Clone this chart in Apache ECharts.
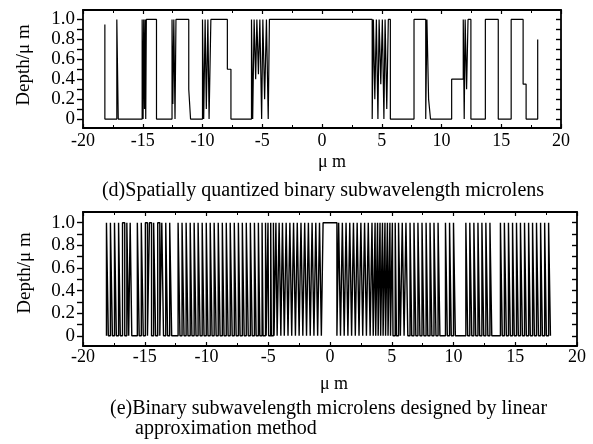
<!DOCTYPE html>
<html>
<head>
<meta charset="utf-8">
<script src="https://cdn.jsdelivr.net/npm/echarts@6/dist/echarts.min.js"></script>
<style>
html,body{margin:0;padding:0;background:#fff;}
#chart{width:593px;height:444px;}
</style>
</head>
<body>
<div id="chart"></div>
<script>
// ---- tick values / labels ----
const xTickValues = [-20, -15, -10, -5, 0, 5, 10, 15, 20];
const xTickLabels = ['-20', '-15', '-10', '-5', '0', '5', '10', '15', '20'];
const yLabelValues = [0, 0.2, 0.4, 0.6, 0.8, 1.0];
const yTickLabels = ['0', '0.2', '0.4', '0.6', '0.8', '1.0'];
const yTickValues = [0, 0.1, 0.2, 0.3, 0.4, 0.5, 0.6, 0.7, 0.8, 0.9, 1.0];

// ---- (d) spatially quantized profile: start point, then edge positions and level after each edge ----
const dStart = [-18.17, 0.95];
const dEdges = [-18.17, -17.17, -17.05, -15.05, -14.97, -14.92, -14.85, -14.80, -14.75, -14.70,
  -13.85, -12.55, -12.48, -12.40, -12.30, -12.22, -11.15, -11.00,
  -10.00, -9.90, -9.78, -9.68, -9.55, -9.45, -9.30,
  -7.92, -7.62,
  -5.90, -5.80, -5.68, -5.55, -5.45, -5.32, -5.20, -5.05, -4.95, -4.80, -4.65, -4.50, -4.40,
  4.20, 4.30, 4.42, 4.55, 4.68, 4.78, 4.92, 5.05, 5.18, 5.28, 5.42, 5.55, 5.72,
  7.70, 8.68, 8.78, 8.92, 9.08,
  10.85, 11.82, 11.90, 11.98, 12.10, 12.22, 12.46,
  13.67, 14.75, 15.83, 16.83, 17.08, 18.05];
const dLevels = [0, 1, 0, 1, 0, 1, 0.1, 1, 0, 1,
  0, 1, 0.15, 1, 0, 1, 0.3, 0,
  1, 0, 1, 0.1, 1, 0, 1,
  0.5, 0,
  1, 0, 1, 0.4, 1, 0.45, 1, 0, 1, 0.2, 1, 0, 1,
  0, 1, 0.2, 1, 0, 1, 0.35, 1, 0, 1, 0.1, 1, 0,
  1, 0, 1, 0.2, 0,
  0.4, 1, 0, 1, 0.3, 1, 0,
  1, 0, 1, 0.35, 0, 0.8];

// ---- (e) linear approximation profile: positions where depth toggles 0 -> 1 -> 0 ... ----
const eEdges = [
  -18.10, -17.95, -17.78, -17.62, -17.45, -17.30, -17.12, -16.98, -16.80, -16.62,
  -16.45, -16.30, -16.18, -16.05,
  -15.60, -15.45, -15.28, -15.12, -14.95, -14.78, -14.62, -14.45, -14.28, -14.12,
  -13.95, -13.78, -13.62, -13.48, -13.30, -13.15, -12.98, -12.82,
  -12.30, -12.15, -11.98, -11.82, -11.65, -11.50, -11.32, -11.18, -11.00, -10.85,
  -10.68, -10.52, -10.35, -10.20, -10.02, -9.88, -9.70, -9.55, -9.38, -9.22,
  -9.05, -8.90, -8.72, -8.58, -8.40, -8.25, -8.08, -7.92, -7.75, -7.60,
  -7.42, -7.28, -7.10, -6.95, -6.78, -6.62, -6.45, -6.30, -6.12, -5.98,
  -5.80, -5.68, -5.50, -5.42, -5.22, -5.17, -5.02, -4.97, -4.80, -4.75,
  -4.58, -4.53, -4.38, -4.28, -4.12, -3.98, -3.85, -3.70, -3.55, -3.40,
  -3.25, -3.10, -2.95, -2.80, -2.65, -2.50, -2.35, -2.20, -2.05, -1.90,
  -1.75, -1.60, -1.45, -1.30, -1.15, -1.00, -0.85, -0.70,
  -0.56, 0.56,
  0.70, 0.85, 1.00, 1.15, 1.30, 1.45, 1.60, 1.75, 1.90, 2.05,
  2.20, 2.35, 2.50, 2.65, 2.80, 2.95, 3.10, 3.25, 3.40, 3.50,
  3.65, 3.70, 3.85, 3.90, 4.05, 4.10, 4.25, 4.30, 4.45, 4.50,
  4.65, 4.70, 4.85, 4.90, 5.05, 5.10, 5.28, 5.38, 5.55, 5.70,
  5.85, 6.00, 6.15, 6.30, 6.48, 6.62, 6.80, 6.95, 7.12, 7.28,
  7.45, 7.60, 7.78, 7.92, 8.10, 8.25, 8.42, 8.58, 8.75, 8.90,
  9.35, 9.50, 9.68, 9.82, 10.00, 10.15,
  11.00, 11.15, 11.32, 11.48, 11.65, 11.80, 11.98, 12.12, 12.30, 12.45,
  12.62, 12.78, 12.95, 13.10,
  13.80, 13.95, 14.12, 14.28, 14.45, 14.60, 14.78, 14.92, 15.10, 15.25,
  15.42, 15.58, 15.75, 15.90, 16.08, 16.22, 16.40, 16.55, 16.72, 16.88,
  17.05, 17.20, 17.38, 17.52, 17.70, 17.85];

// ---- build step polylines from the arrays ----
function buildD() {
  const pts = [dStart.slice()];
  let prev = dStart[1];
  for (let i = 0; i < dEdges.length; i++) {
    pts.push([dEdges[i], prev]);
    pts.push([dEdges[i], dLevels[i]]);
    prev = dLevels[i];
  }
  return pts;
}
function buildE() {
  const pts = [];
  let lvl = 0;
  for (let i = 0; i < eEdges.length; i++) {
    const nl = lvl === 0 ? 1 : 0;
    pts.push([eEdges[i], lvl]);
    pts.push([eEdges[i], nl]);
    lvl = nl;
  }
  return pts;
}

const FONT = '"Liberation Serif", "DejaVu Serif", serif';
const grids = [
  { left: 83, width: 478, top: 10, height: 118 },
  { left: 83, width: 494, top: 212, height: 134 }
];

function xAxes(gi) {
  const base = { type: 'value', gridIndex: gi, min: -20, max: 20, interval: 5,
    splitLine: { show: false },
    axisLine: { show: true, onZero: false, lineStyle: { color: '#000', width: 1.8 } } };
  return [
    Object.assign({}, base, {
      position: 'bottom',
      axisTick: { show: true, inside: true, length: 4, lineStyle: { color: '#000', width: 1.2 } },
      minorTick: { show: true, splitNumber: 2, length: 3, lineStyle: { color: '#000', width: 1 } },
      axisLabel: { show: true, color: '#000', fontFamily: FONT, fontSize: 18, margin: gi === 0 ? 4 : 2,
        formatter: v => { const k = xTickValues.indexOf(v); return k >= 0 ? xTickLabels[k] : ''; } }
    }),
    Object.assign({}, base, {
      position: 'top',
      axisTick: { show: true, inside: true, length: 4, lineStyle: { color: '#000', width: 1.2 } },
      minorTick: { show: true, splitNumber: 2, length: 3, lineStyle: { color: '#000', width: 1 } },
      axisLabel: { show: false }
    })
  ];
}
function yAxes(gi) {
  const base = { type: 'value', gridIndex: gi, min: -0.09, max: 1.095,
    splitLine: { show: false },
    axisLine: { show: true, onZero: false, lineStyle: { color: '#000', width: 1.8 } } };
  return [
    Object.assign({}, base, {
      position: 'left',
      axisTick: { show: true, inside: false, length: 6, customValues: yTickValues, lineStyle: { color: '#000', width: 1.4 } },
      axisLabel: { show: true, color: '#000', fontFamily: FONT, fontSize: 19, margin: 8,
        customValues: yLabelValues,
        formatter: v => { const k = yLabelValues.findIndex(t => Math.abs(t - v) < 1e-6); return k >= 0 ? yTickLabels[k] : ''; } }
    }),
    Object.assign({}, base, {
      position: 'right',
      axisTick: { show: true, inside: true, length: 5, customValues: yTickValues, lineStyle: { color: '#000', width: 1.4 } },
      axisLabel: { show: false }
    })
  ];
}

const chart = echarts.init(document.getElementById('chart'), null, { renderer: 'canvas' });
const txt = (x, y, text, extra) => Object.assign({
  type: 'text', x: x, y: y, silent: true,
  style: Object.assign({ text: text, fill: '#000', font: '19px ' + FONT, textAlign: 'center', textVerticalAlign: 'middle' }, extra || {})
});
chart.setOption({
  animation: false,
  backgroundColor: '#fff',
  grid: grids,
  xAxis: xAxes(0).concat(xAxes(1)),
  yAxis: yAxes(0).concat(yAxes(1)),
  series: [
    { type: 'line', xAxisIndex: 0, yAxisIndex: 0, data: buildD(), showSymbol: false, clip: true,
      lineStyle: { color: '#000', width: 1.2 } },
    { type: 'line', xAxisIndex: 2, yAxisIndex: 2, data: buildE(), showSymbol: false, clip: true,
      lineStyle: { color: '#000', width: 1.4 } }
  ],
  graphic: [
    txt(24, 65, 'Depth/μ m', { font: '19px ' + FONT }),
    txt(25, 273, 'Depth/μ m', { font: '19px ' + FONT }),
    txt(332, 162, 'μ m', { font: '18px ' + FONT }),
    txt(334, 384, 'μ m', { font: '18px ' + FONT }),
    txt(323, 191, '(d)Spatially quantized binary subwavelength microlens', { font: '20px ' + FONT }),
    txt(110, 409, '(e)Binary subwavelength microlens designed by linear', { font: '20px ' + FONT, textAlign: 'left' }),
    txt(135, 429, 'approximation method', { font: '20px ' + FONT, textAlign: 'left' })
  ].map((g, i) => (i < 2 ? Object.assign(g, { rotation: Math.PI / 2 }) : g))
});
</script>
</body>
</html>
